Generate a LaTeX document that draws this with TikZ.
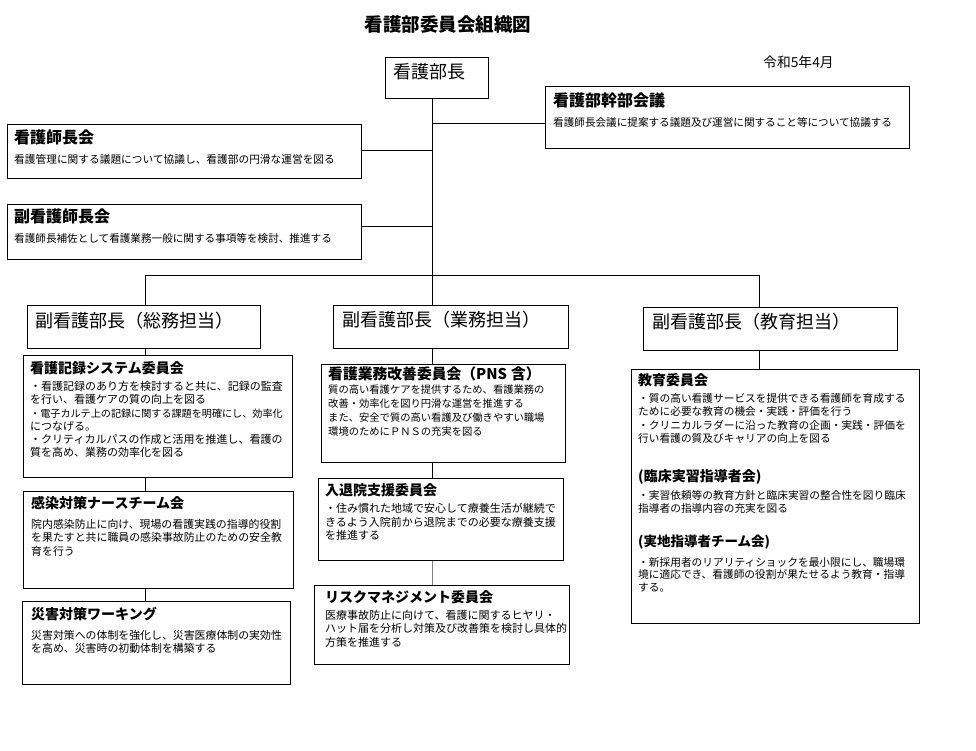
\documentclass[tikz,border=0pt]{standalone}
\usepackage{fontspec}
\setmainfont{Noto Sans CJK JP}
\begin{document}
\begin{tikzpicture}[x=1pt,y=-1pt,
  box/.style={draw, line width=0.8pt, rectangle, inner sep=0pt, anchor=north west},
  conn/.style={line width=0.8pt},
  ttl/.style={anchor=west, inner sep=0pt, font=\bfseries\fontsize{14}{14}\selectfont},
  bigttl/.style={anchor=west, inner sep=0pt, font=\bfseries\fontsize{16}{16}\selectfont},
  headttl/.style={anchor=west, inner sep=0pt, font=\fontsize{18}{18}\selectfont},
  body/.style={anchor=north west, inner sep=0pt, align=left},
]
\useasboundingbox[fill=white] (0,0) rectangle (976,751);

% title and date
\node[inner sep=0pt, font=\bfseries\fontsize{18.5}{18.5}\selectfont] (title) at (448,25) {看護部委員会組織図};
\node[anchor=west, inner sep=0pt, font=\fontsize{13.8}{13.8}\selectfont] (date) at (763,62) {令和5年4月};

% boxes
\node[box, minimum width=103pt, minimum height=41pt] (bucho) at (385,57) {};
\node[box, minimum width=364pt, minimum height=62pt] (kanbu) at (545,86) {};
\node[box, minimum width=354pt, minimum height=54pt] (shicho) at (7,124) {};
\node[box, minimum width=354pt, minimum height=55pt] (fukushicho) at (7,204) {};
\node[box, minimum width=233pt, minimum height=43pt] (somu) at (27,305) {};
\node[box, minimum width=235pt, minimum height=43pt] (gyomu) at (333,305) {};
\node[box, minimum width=254pt, minimum height=43pt] (kyoiku) at (643,307) {};
\node[box, minimum width=269pt, minimum height=122pt] (kiroku) at (23,355) {};
\node[box, minimum width=270pt, minimum height=97pt] (kansen) at (23,491) {};
\node[box, minimum width=268pt, minimum height=83pt] (saigai) at (22,601) {};
\node[box, minimum width=244pt, minimum height=98pt] (kaizen) at (321,364) {};
\node[box, minimum width=245pt, minimum height=82pt] (nyutai) at (318,478) {};
\node[box, minimum width=255pt, minimum height=79pt] (risk) at (314,585) {};
\node[box, minimum width=288pt, minimum height=254pt] (kyoikuiin) at (631,369) {};

% texts
\node[headttl] (buchoT) at (393,72) {看護部長};
\node[bigttl] (kanbuT) at (553,100) {看護部幹部会議};
\node[body, font=\fontsize{10.6}{13.4}\selectfont] (kanbuB) at (553,117) {看護師長会議に提案する議題及び運営に関すること等について協議する};
\node[bigttl] (shichoT) at (14,137) {看護師長会};
\node[body, font=\fontsize{10.7}{13.4}\selectfont] (shichoB) at (14,154) {看護管理に関する議題について協議し、看護部の円滑な運営を図る};
\node[bigttl] (fukushichoT) at (14,216) {副看護師長会};
\node[body, font=\fontsize{10.6}{13.4}\selectfont] (fukushichoB) at (14,233) {看護師長補佐として看護業務一般に関する事項等を検討、推進する};

\node[headttl] (somuT) at (35,321) {副看護部長（総務担当）};
\node[headttl] (gyomuT) at (342,320) {副看護部長（業務担当）};
\node[headttl] (kyoikuT) at (652,322) {副看護部長（教育担当）};

\node[ttl] (kirokuT) at (30,368) {看護記録システム委員会};
\node[body, font=\fontsize{11}{13.3}\selectfont] (kirokuB) at (30,381) {・看護記録のあり方を検討すると共に、記録の監査\\を行い、看護ケアの質の向上を図る\\{\fontsize{10.1}{13.3}\selectfont ・電子カルテ上の記録に関する課題を明確にし、効率化}\\につなげる。\\・クリティカルパスの作成と活用を推進し、看護の\\質を高め、業務の効率化を図る};

\node[ttl] (kansenT) at (31,503) {感染対策ナースチーム会};
\node[body, font=\fontsize{10.9}{13.5}\selectfont] (kansenB) at (31,519) {院内感染防止に向け、現場の看護実践の指導的役割\\を果たすと共に職員の感染事故防止のための安全教\\育を行う};

\node[ttl] (saigaiT) at (31,614) {災害対策ワーキング};
\node[body, font=\fontsize{10.9}{13.3}\selectfont] (saigaiB) at (31,630) {災害対策への体制を強化し、災害医療体制の実効性\\を高め、災害時の初動体制を構築する};

\node[ttl, font=\bfseries\fontsize{14.8}{14.8}\selectfont] (kaizenT) at (328,374) {看護業務改善委員会（PNS\hspace{4pt}含）};
\node[body, font=\fontsize{10.3}{14}\selectfont] (kaizenB) at (328,385) {質の高い看護ケアを提供するため、看護業務の\\改善・効率化を図り円滑な運営を推進する\\また、安全で質の高い看護及び働きやすい職場\\環境のためにＰＮＳの充実を図る};

\node[ttl] (nyutaiT) at (325,490) {入退院支援委員会};
\node[body, font=\fontsize{11}{13.5}\selectfont] (nyutaiB) at (325,503) {・住み慣れた地域で安心して療養生活が継続で\\きるよう入院前から退院までの必要な療養支援\\を推進する};

\node[ttl] (riskT) at (325,597) {リスクマネジメント委員会};
\node[body, font=\fontsize{11}{13.5}\selectfont] (riskB) at (325,610) {医療事故防止に向けて、看護に関するヒヤリ・\\ハット届を分析し対策及び改善策を検討し具体的\\方策を推進する};

\node[ttl] (kyoikuiinT) at (638,380) {教育委員会};
\node[body, font=\fontsize{10.7}{13.4}\selectfont] (kyoikuiinB) at (638,393) {・質の高い看護サービスを提供できる看護師を育成する\\ために必要な教育の機会・実践・評価を行う\\・クリニカルラダーに沿った教育の企画・実践・評価を\\行い看護の質及びキャリアの向上を図る};
\node[ttl] (rinshoT) at (638,477) {(臨床実習指導者会)};
\node[body, font=\fontsize{10.7}{12.8}\selectfont] (rinshoB) at (638,490) {・実習依頼等の教育方針と臨床実習の整合性を図り臨床\\指導者の指導内容の充実を図る};
\node[ttl, font=\bfseries\fontsize{13.5}{13.5}\selectfont] (jicchiT) at (638,542) {(実地指導者チーム会)};
\node[body, font=\fontsize{10.7}{12.8}\selectfont] (jicchiB) at (638,557) {・新採用者のリアリティショックを最小限にし、職場環\\境に適応でき、看護師の役割が果たせるよう教育・指導\\する。};

% connector coordinates
\coordinate (t0) at (432,98);
\coordinate (t1) at (432,123);
\coordinate (t2) at (432,150);
\coordinate (t3) at (432,226);
\coordinate (hm) at (432,275);
\coordinate (hl) at (145,275);
\coordinate (hr) at (759,275);

% connectors
\draw[conn] (t0) -- (hm);
\draw[conn] (t1) -- (t1 -| kanbu.west);
\draw[conn] (t2) -- (t2 -| shicho.east);
\draw[conn] (t3) -- (t3 -| fukushicho.east);
\draw[conn] (hl) -- (hr);
\draw[conn] (hl) -- (hl |- somu.north);
\draw[conn] (hm) -- (hm |- gyomu.north);
\draw[conn] (hr) -- (hr |- kyoiku.north);
\draw[conn] (somu.south -| hl) -- (kiroku.north -| hl);
\draw[conn] (kiroku.south -| hl) -- (kansen.north -| hl);
\draw[conn] (kansen.south -| hl) -- (saigai.north -| hl);
\draw[conn] (gyomu.south -| hm) -- (kaizen.north -| hm);
\draw[conn] (kaizen.south -| hm) -- (nyutai.north -| hm);
\draw[conn, gray] (nyutai.south -| hm) -- (risk.north -| hm);
\draw[conn] (kyoiku.south -| hr) -- (kyoikuiin.north -| hr);
\end{tikzpicture}
\end{document}
